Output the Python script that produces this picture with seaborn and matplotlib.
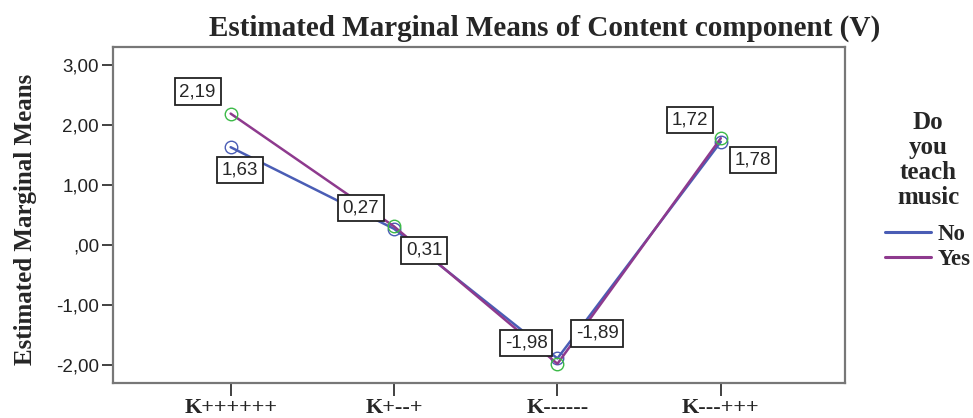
import matplotlib
matplotlib.use("Agg")
import matplotlib.pyplot as plt
from matplotlib.lines import Line2D
import seaborn as sns
import pandas as pd

categories = ["K++++++", "K+--+", "K------", "K---+++"]
no_values = [1.63, 0.27, -1.89, 1.72]
yes_values = [2.19, 0.31, -1.98, 1.78]
ytick_values = [3, 2, 1, 0, -1, -2]
ytick_labels = ["3,00", "2,00", "1,00", ",00", "-1,00", "-2,00"]
no_labels = ["1,63", "0,27", "-1,89", "1,72"]
yes_labels = ["2,19", "0,31", "-1,98", "1,78"]

sns.set_theme(style="white")
plt.rcParams["font.family"] = ["Liberation Serif", "DejaVu Serif"]

blue = "#4a5db5"
purple = "#8e3a8e"
green = "#3cba48"

df_no = pd.DataFrame({"x": range(len(categories)), "y": no_values})
df_yes = pd.DataFrame({"x": range(len(categories)), "y": yes_values})

fig = plt.figure(figsize=(9.73, 4.18), dpi=100)
ax = fig.add_axes([113/973, 1 - 383/418, (845-113)/973, (383-47)/418])

sns.lineplot(data=df_no, x="x", y="y", ax=ax, color=blue, lw=1.8, marker="o",
             markersize=9, markerfacecolor="none", markeredgecolor=blue, markeredgewidth=1.0)
sns.lineplot(data=df_yes, x="x", y="y", ax=ax, color=purple, lw=1.8, marker="o",
             markersize=9, markerfacecolor="none", markeredgecolor=green, markeredgewidth=1.0)

no_off = [(9, -23), (-33, 21), (40, 25), (-31, 22)]
yes_off = [(-33, 22), (30, -24), (-31, 21), (32, -22)]
box = dict(boxstyle="square,pad=0.25", fc="white", ec="#222222", lw=1.3)
for i in range(len(categories)):
    ax.annotate(no_labels[i], (i, no_values[i]), xytext=no_off[i], textcoords="offset pixels",
                ha="center", va="center", fontsize=13.5, family="Liberation Sans", bbox=box, zorder=5)
    ax.annotate(yes_labels[i], (i, yes_values[i]), xytext=yes_off[i], textcoords="offset pixels",
                ha="center", va="center", fontsize=13.5, family="Liberation Sans", bbox=box, zorder=5)

ax.set_xlim(-0.72, 3.76)
ax.set_ylim(-2.3, 3.3)
ax.set_xticks(range(len(categories)))
ax.set_xticklabels(categories, fontsize=16, fontweight="bold")
ax.set_yticks(ytick_values)
ax.set_yticklabels(ytick_labels, fontsize=13.5, family="Liberation Sans", color="#222222")
ax.set_xlabel("")
ax.set_ylabel("Estimated Marginal Means", fontsize=18, fontweight="bold")
ax.yaxis.set_label_coords(-0.104, 0.488)
ax.tick_params(axis="x", direction="out", length=9, width=1.3, color="#333333", bottom=True, pad=2)
ax.tick_params(axis="y", direction="out", length=8, width=1.3, color="#333333", left=True, pad=2)
for s in ax.spines.values():
    s.set_color("#777777")
    s.set_linewidth(1.6)

fig.text(545/973, 1 - 28/418, "Estimated Marginal Means of Content component (V)",
         ha="center", va="center", fontsize=21, fontweight="bold")

fig.text(928/973, 1 - 160/418, "Do\nyou\nteach\nmusic", ha="center", va="center",
         multialignment="center", fontsize=18, fontweight="bold", linespacing=1.12)

handles = [Line2D([0], [0], color=blue, lw=2.2), Line2D([0], [0], color=purple, lw=2.2)]
leg = fig.legend(handles, ["No", "Yes"],
                 loc="center", bbox_to_anchor=(928/973, 1 - 247/418), frameon=False,
                 prop=dict(family="Liberation Serif", weight="bold", size=16.5),
                 handlelength=2.0, handletextpad=0.3, labelspacing=0.2)

fig.savefig("out.png", dpi=100)
